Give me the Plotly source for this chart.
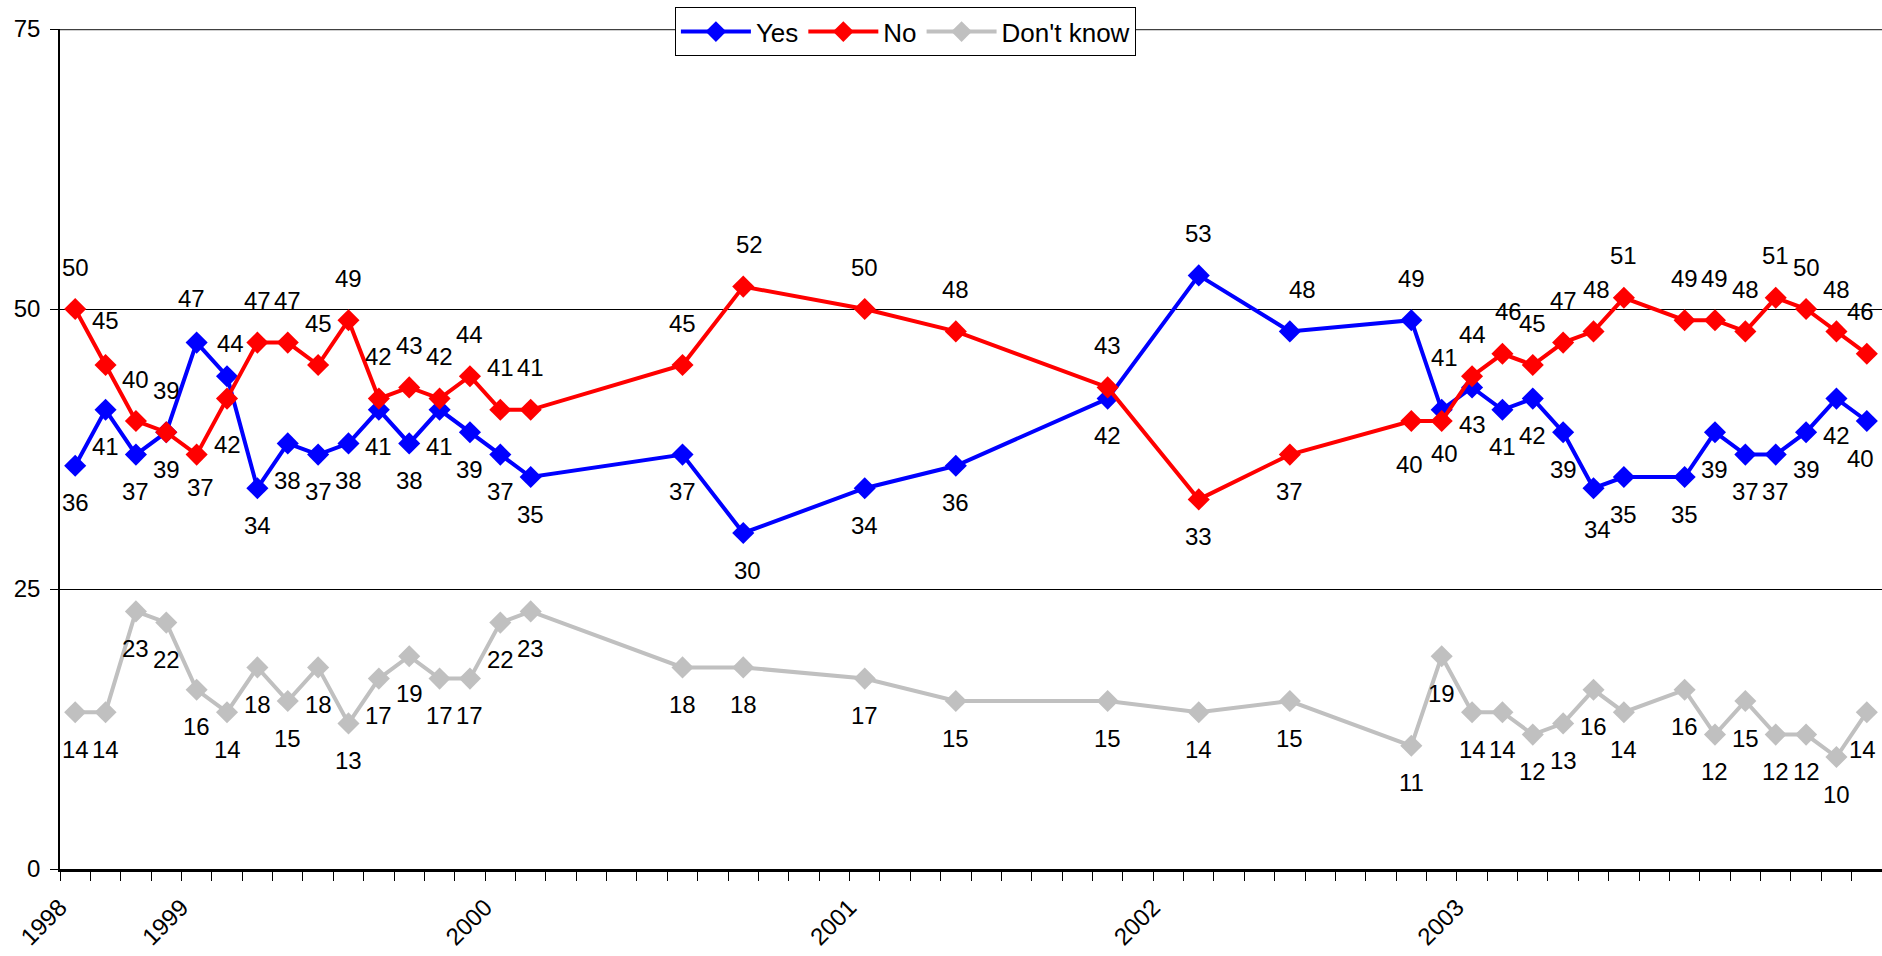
import plotly.graph_objects as go

# ---- data ----
month_index = [0, 1, 2, 3, 4, 5, 6, 7, 8, 9, 10, 11, 12, 13, 14, 15,
               20, 22, 26, 29, 34, 37, 40,
               44, 45, 46, 47, 48, 49, 50, 51, 53, 54, 55, 56, 57, 58, 59]
yes = [36, 41, 37, 39, 47, 44, 34, 38, 37, 38, 41, 38, 41, 39, 37, 35,
       37, 30, 34, 36, 42, 53, 48,
       49, 41, 43, 41, 42, 39, 34, 35, 35, 39, 37, 37, 39, 42, 40]
no = [50, 45, 40, 39, 37, 42, 47, 47, 45, 49, 42, 43, 42, 44, 41, 41,
      45, 52, 50, 48, 43, 33, 37,
      40, 40, 44, 46, 45, 47, 48, 51, 49, 49, 48, 51, 50, 48, 46]
dont_know = [14, 14, 23, 22, 16, 14, 18, 15, 18, 13, 17, 19, 17, 17, 22, 23,
             18, 18, 17, 15, 15, 14, 15,
             11, 19, 14, 14, 12, 13, 16, 14, 16, 12, 15, 12, 12, 10, 14]
year_tick_month = [0, 4, 14, 26, 36, 46]
year_labels = ["1998", "1999", "2000", "2001", "2002", "2003"]
series_names = ["Yes", "No", "Don't know"]

# ---- style ----
colors = ["#0000FF", "#FF0000", "#C0C0C0"]
FONT = "Liberation Sans, Arial, sans-serif"
# label placement: 'a' above, 'b' below
yes_pos = ["b"] * 38
for i in (4, 5, 21, 22, 23, 24):
    yes_pos[i] = "a"
no_pos = ["a"] * 38
for i in (4, 5, 21, 22, 23, 24):
    no_pos[i] = "b"
dk_pos = ["b"] * 38
ABOVE, BELOW = 42, -37
label_tweaks = {
    (0, 4): (-5, 44), (0, 5): (3, 33), (0, 22): (13, None), (0, 24): (3, 52),
    (0, 29): (4, -41), (0, 37): (-6, None), (0, 17): (4, None),
    (1, 1): (0, 45),
    (1, 4): (4, -33), (1, 5): (0, -46), (1, 23): (-2, -43), (1, 24): (3, -32),
    (1, 17): (6, None), (1, 26): (6, None), (1, 37): (-6, None), (1, 29): (3, None),
    (2, 37): (-4, None),
}

x = [m + 0.5 for m in month_index]
all_vals = [yes, no, dont_know]
all_pos = [yes_pos, no_pos, dk_pos]

fig = go.Figure()
for s, (name, vals, col) in enumerate(zip(series_names, all_vals, colors)):
    fig.add_trace(go.Scatter(
        x=x, y=vals, name=name, mode="lines+markers",
        line=dict(color=col, width=4),
        marker=dict(symbol="diamond", size=17, color=col),
    ))

annotations = []
for s, (vals, pos) in enumerate(zip(all_vals, all_pos)):
    for i, (xv, v, p) in enumerate(zip(x, vals, pos)):
        dx, dy = 0, (ABOVE if p == "a" else BELOW)
        if (s, i) in label_tweaks:
            tdx, tdy = label_tweaks[(s, i)]
            dx = tdx
            if tdy is not None:
                dy = tdy
        annotations.append(dict(
            x=xv, y=v, xref="x", yref="y", text=str(v), showarrow=False,
            xshift=dx, yshift=dy, xanchor="center", yanchor="middle",
            font=dict(family=FONT, size=24, color="black"),
        ))

fig.update_layout(
    width=1882, height=956,
    margin=dict(l=60, r=0, t=29, b=87),
    paper_bgcolor="white", plot_bgcolor="white",
    font=dict(family=FONT, size=24, color="black"),
    showlegend=True,
    legend=dict(
        orientation="h", x=0.464, xanchor="center", y=1.026, yanchor="top",
        bgcolor="white", bordercolor="black", borderwidth=1,
        font=dict(family=FONT, size=26, color="black"),
        itemwidth=70, tracegroupgap=0,
    ),
    annotations=annotations,
    shapes=[dict(type="line", xref="paper", yref="y", x0=0, x1=1, y0=75, y1=75,
                 line=dict(color="#404040", width=2.5), layer="below")],
)
fig.update_xaxes(
    range=[0, 60], showgrid=False, zeroline=False, automargin=False,
    showline=True, linecolor="black", linewidth=2.5,
    tickmode="array", tickvals=year_tick_month, ticktext=year_labels,
    tickangle=-45, ticks="outside", ticklen=9, tickcolor="black", tickwidth=1,
    ticklabelstandoff=3,
    minor=dict(dtick=1, tick0=0, ticks="outside", ticklen=9, tickcolor="black",
               tickwidth=1, showgrid=False),
    tickfont=dict(family=FONT, size=24, color="black"),
)
fig.update_yaxes(
    range=[0, 75], tickvals=[0, 25, 50, 75], showgrid=True, gridcolor="black",
    gridwidth=1, zeroline=False, showline=True, linecolor="black", linewidth=1.5,
    automargin=False,
    ticks="outside", ticklen=8, tickcolor="black", ticklabelstandoff=5,
    tickfont=dict(family=FONT, size=24, color="black"),
)

fig.write_html("out.html")
